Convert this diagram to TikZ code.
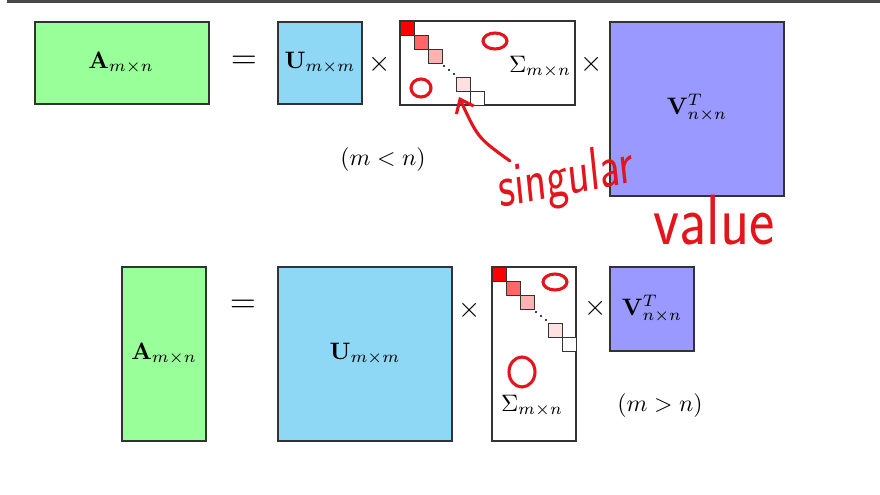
\documentclass[tikz,border=0pt]{standalone}
\usepackage{amsmath,amssymb}
\usepackage{tikz}
\usepackage{xcolor}
\usetikzlibrary{arrows.meta,positioning,calc}

\definecolor{matgreen}{RGB}{153,255,153}
\definecolor{matblue}{RGB}{143,216,245}
\definecolor{matpurple}{RGB}{153,153,255}
\definecolor{topbar}{RGB}{72,72,72}
\definecolor{pen}{RGB}{228,20,28}

\tikzset{
  mat/.style={draw=black!80, line width=0.5pt},
  diag/.style={draw=black!80, line width=0.4pt},
  op/.style={font=\large},
  scrib/.style={draw=pen, line width=1.3pt, line cap=round},
  scribtext/.style={text=pen, font=\sffamily, inner sep=0pt},
}

\begin{document}
\begin{tikzpicture}[x=0.42pt,y=-0.42pt,>=Latex]
  \useasboundingbox (0,0) rectangle (880,495);
  \fill[topbar] (7,0) rectangle (880,3);
  % m < n
  \draw[mat,fill=matgreen] (35,22) rectangle (209,104);
  \node (A1) at (121,63) {$\mathbf{A}_{m\times n}$};
  \node[font=\Large] (eq1) at (244,62) {$=$};
  \draw[mat,fill=matblue] (278,22) rectangle (362,104);
  \node (U1) at (320,63) {$\mathbf{U}_{m\times m}$};
  \node[op] (x1) at (380,64) {$\times$};
  \draw[mat,fill=white] (400,21) rectangle (575,105);
  \foreach \i/\c in {0/red,1/red!60,2/red!30,4/red!12,5/white}
    \draw[diag,fill=\c] (400+\i*14,21+\i*14) rectangle +(14,14);
  \foreach \d in {-5,0,5} \fill (449+\d,70+\d*0.8) circle (0.45pt);
  \node (S1) at (540,67) {$\Sigma_{m\times n}$};
  \node[op] (x2) at (592,64) {$\times$};
  \draw[mat,fill=matpurple] (610,22) rectangle (784,196);
  \node (V1) at (697,108) {$\mathbf{V}^T_{n\times n}$};
  \node (c1) at (383,160) {$(m<n)$};
  % m > n
  \draw[mat,fill=matgreen] (122,267) rectangle (206,441);
  \node (A2) at (164,354) {$\mathbf{A}_{m\times n}$};
  \node[font=\Large] (eq2) at (243,306) {$=$};
  \draw[mat,fill=matblue] (278,267) rectangle (452,441);
  \node (U2) at (365,354) {$\mathbf{U}_{m\times m}$};
  \node[op] (x3) at (470,310) {$\times$};
  \draw[mat,fill=white] (492,267) rectangle (576,441);
  \foreach \i/\c in {0/red,1/red!60,2/red!30,4/red!12,5/white}
    \draw[diag,fill=\c] (492+\i*14,267+\i*14) rectangle +(14,14);
  \foreach \d in {-5,0,5} \fill (541+\d,316+\d*0.8) circle (0.45pt);
  \node (S2) at (532,406) {$\Sigma_{m\times n}$};
  \node[op] (x4) at (596,308) {$\times$};
  \draw[mat,fill=matpurple] (610,267) rectangle (694,351);
  \node (V2) at (652,309) {$\mathbf{V}^T_{n\times n}$};
  \node (c2) at (660,406) {$(m>n)$};
  % scribbles
  \draw[scrib] (495,41) ellipse (12 and 8);
  \draw[scrib] (421,88) ellipse (10 and 9);
  \draw[scrib] (555,282) ellipse (12 and 8);
  \draw[scrib] (522,372) ellipse (13 and 15);
  \node[scribtext, font=\sffamily\fontsize{19}{20}\selectfont, yscale=1.35, rotate=8] (sing) at (566,180) {singular};
  \node[scribtext, font=\sffamily\fontsize{23}{24}\selectfont, xscale=1.1, yscale=1.3] (val) at (714,220) {value};
  \coordinate (tail) at (510,161);
  \coordinate (tip) at (459,97);
  \draw[scrib,-{Straight Barb[length=5pt,width=8pt]}] (tail) .. controls (478,138) .. (tip);
\end{tikzpicture}
\end{document}
